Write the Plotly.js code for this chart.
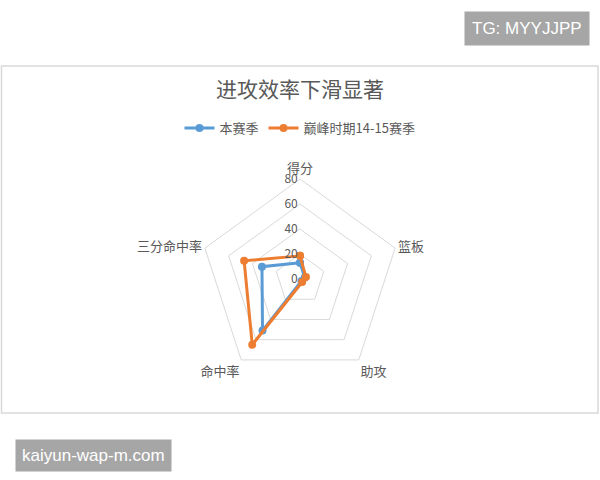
<!DOCTYPE html>
<html>
<head>
<meta charset="utf-8">
<script src="https://cdn.plot.ly/plotly-3.0.1.min.js"></script>
<style>
  html, body { margin: 0; padding: 0; background: #fff; }
  #chart { width: 600px; height: 480px; }
</style>
</head>
<body>
<div id="chart"></div>
<script>
// categories, clockwise from the top
var categories = ['得分', '篮板', '助攻', '命中率', '三分命中率'];
var thisSeason = [13, 4, 2, 51, 32];
var peakSeason = [18.5, 5, 3, 65, 47];
var radialTicks = [0, 20, 40, 60, 80];

var seriesNames = ['本赛季', '巅峰时期14-15赛季'];
var seriesColors = ['#5B9BD5', '#ED7D31'];

function closeLoop(arr) {
    return arr.concat([arr[0]]);
}

var traces = [thisSeason, peakSeason].map(function (vals, i) {
    return {
        type: 'scatterpolar',
        r: closeLoop(vals),
        theta: closeLoop(categories),
        mode: 'lines+markers',
        name: seriesNames[i],
        line: { color: seriesColors[i], width: 3 },
        marker: { color: seriesColors[i], size: 8 },
        hoverinfo: 'skip'
    };
});

var font = 'Noto Sans CJK SC, sans-serif';
// pushes the radial tick labels to the left of the axis, like Excel does
var pad = '\u00a0\u00a0\u00a0\u00a0\u00a0\u00a0\u00a0\u00a0';

var layout = {
    width: 600,
    height: 480,
    margin: { l: 0, r: 0, t: 0, b: 0 },
    paper_bgcolor: '#fff',
    showlegend: true,
    font: { family: font, color: '#595959', size: 13 },
    title: {
        text: '进攻效率下滑显著',
        font: { family: font, size: 21, color: '#595959' },
        x: 0.5, xanchor: 'center',
        y: 1 - 90 / 480, yanchor: 'middle'
    },
    legend: {
        orientation: 'h',
        x: 0.5, xanchor: 'center',
        y: 1 - 128 / 480, yanchor: 'middle',
        font: { family: font, size: 13, color: '#595959' },
        itemwidth: 30,
        tracegroupgap: 0
    },
    polar: {
        domain: { x: [200 / 600, 400 / 600], y: [101 / 480, 301 / 480] },
        gridshape: 'linear',
        bgcolor: 'rgba(0,0,0,0)',
        angularaxis: {
            direction: 'clockwise',
            rotation: 90,
            showgrid: false,
            showline: true,
            linecolor: '#d9d9d9',
            linewidth: 1,
            ticks: '',
            tickfont: { family: font, size: 13, color: '#595959' }
        },
        radialaxis: {
            range: [0, 80],
            tickvals: radialTicks,
            ticksuffix: pad,
            angle: 90,
            side: 'counterclockwise',
            showline: false,
            ticks: '',
            gridcolor: '#d9d9d9',
            gridwidth: 1,
            tickangle: 90,
            tickfont: { family: font, size: 12, color: '#595959' }
        }
    },
    shapes: [{
        type: 'rect', xref: 'paper', yref: 'paper',
        x0: 1.5 / 600, x1: 598 / 600,
        y0: 1 - 413 / 480, y1: 1 - 66 / 480,
        line: { color: '#d9d9d9', width: 1.5 },
        layer: 'below'
    }],
    annotations: [{
        text: 'TG: MYYJJPP', xref: 'paper', yref: 'paper',
        x: 527 / 600, y: 1 - 28 / 480, xanchor: 'center', yanchor: 'middle',
        showarrow: false, bgcolor: '#a6a6a6', borderpad: 7,
        font: { family: 'Liberation Sans, Arial, sans-serif', size: 17, color: '#fff' }
    }, {
        text: 'kaiyun-wap-m.com', xref: 'paper', yref: 'paper',
        x: 93 / 600, y: 1 - 455 / 480, xanchor: 'center', yanchor: 'middle',
        showarrow: false, bgcolor: '#a6a6a6', borderpad: 6,
        font: { family: 'Liberation Sans, Arial, sans-serif', size: 17, color: '#fff' }
    }]
};

Plotly.newPlot('chart', traces, layout, { displayModeBar: false, staticPlot: true });
</script>
</body>
</html>
